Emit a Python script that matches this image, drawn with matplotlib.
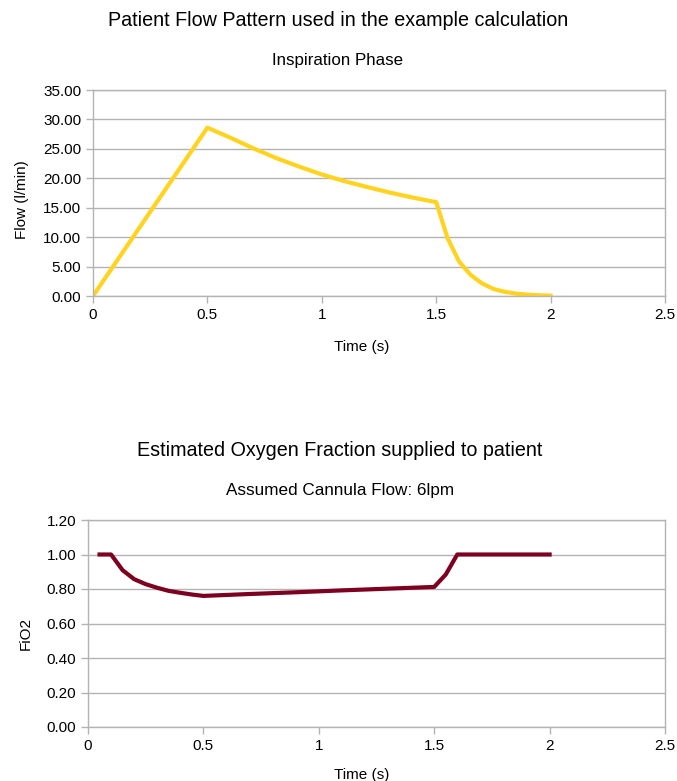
import matplotlib.pyplot as plt
import numpy as np

plt.rcParams['font.family'] = ['Liberation Sans', 'DejaVu Sans']

# flow pattern (inspiration phase)
t_flow = [0.0, 0.05, 0.1, 0.15, 0.2, 0.25, 0.3, 0.35, 0.4, 0.45, 0.5,
          0.6, 0.7, 0.8, 0.9, 1.0, 1.1, 1.2, 1.3, 1.4, 1.5,
          1.55, 1.6, 1.65, 1.7, 1.75, 1.8, 1.85, 1.9, 1.95, 2.0]
flow = [0.0, 2.86, 5.72, 8.58, 11.44, 14.3, 17.16, 20.02, 22.88, 25.74, 28.6,
        26.9, 25.1, 23.45, 22.0, 20.65, 19.5, 18.5, 17.55, 16.7, 15.95,
        9.8, 5.85, 3.6, 2.15, 1.2, 0.7, 0.4, 0.23, 0.12, 0.06]

# estimated FiO2
t_fio2 = [0.05, 0.1, 0.15, 0.2, 0.25, 0.3, 0.35, 0.4, 0.45, 0.5,
          0.7, 0.9, 1.1, 1.3, 1.5, 1.55, 1.6, 1.7, 1.8, 1.9, 2.0]
fio2 = [1.0, 1.0, 0.909, 0.857, 0.828, 0.807, 0.789, 0.778, 0.768, 0.760,
        0.771, 0.781, 0.792, 0.802, 0.812, 0.884, 1.0, 1.0, 1.0, 1.0, 1.0]

W, H = 677, 781
fig = plt.figure(figsize=(W / 100, H / 100), dpi=100)

def axbox(l, t, r, b):
    return [l / W, 1 - b / H, (r - l) / W, (b - t) / H]

grid_c = '#b3b3b3'

def style(ax):
    for s in ax.spines.values():
        s.set_color(grid_c)
        s.set_linewidth(1)
    ax.grid(axis='y', color=grid_c, linewidth=1)
    ax.set_axisbelow(True)
    ax.tick_params(colors=grid_c, labelcolor='black', labelsize=11, length=5, width=1)
    ax.set_xlim(0, 2.5)
    ax.set_xticks([0, 0.5, 1, 1.5, 2, 2.5])
    ax.set_xticklabels(['0', '0.5', '1', '1.5', '2', '2.5'])

ax1 = fig.add_axes(axbox(93, 90, 665, 296))
ax1.plot(t_flow, flow, color='#ffd320', linewidth=3, solid_joinstyle='round')
ax1.set_ylim(0, 35)
ax1.set_yticks(np.arange(0, 36, 5))
ax1.yaxis.set_major_formatter(plt.FuncFormatter(lambda v, p: '%.2f' % v))
style(ax1)
ax1.set_xlabel('Time (s)', fontsize=11, labelpad=13)
ax1.set_ylabel('Flow (l/min)', fontsize=11, labelpad=10)
ax1.xaxis.label.set_x(0.469)
ax1.yaxis.label.set_y(0.466)

ax2 = fig.add_axes(axbox(88, 520, 665, 727))
ax2.plot(t_fio2, fio2, color='#7e0021', linewidth=3, solid_joinstyle='round')
ax2.set_ylim(0, 1.2)
ax2.set_yticks(np.arange(0, 1.21, 0.2))
ax2.yaxis.set_major_formatter(plt.FuncFormatter(lambda v, p: '%.2f' % v))
style(ax2)
ax2.set_xlabel('Time (s)', fontsize=11, labelpad=11)
ax2.set_ylabel('FiO2', fontsize=11, labelpad=10)
ax2.xaxis.label.set_x(0.475)
ax2.yaxis.label.set_y(0.45)

fig.text(338 / W, 1 - 20 / H, 'Patient Flow Pattern used in the example calculation',
         ha='center', va='center', fontsize=14.2)
fig.text(338 / W, 1 - 60 / H, 'Inspiration Phase', ha='center', va='center', fontsize=12.2)
fig.text(340 / W, 1 - 450 / H, 'Estimated Oxygen Fraction supplied to patient',
         ha='center', va='center', fontsize=14.2)
fig.text(340 / W, 1 - 490 / H, 'Assumed Cannula Flow: 6lpm', ha='center', va='center', fontsize=12.3)

fig.savefig('out.png', dpi=100, facecolor='white')
